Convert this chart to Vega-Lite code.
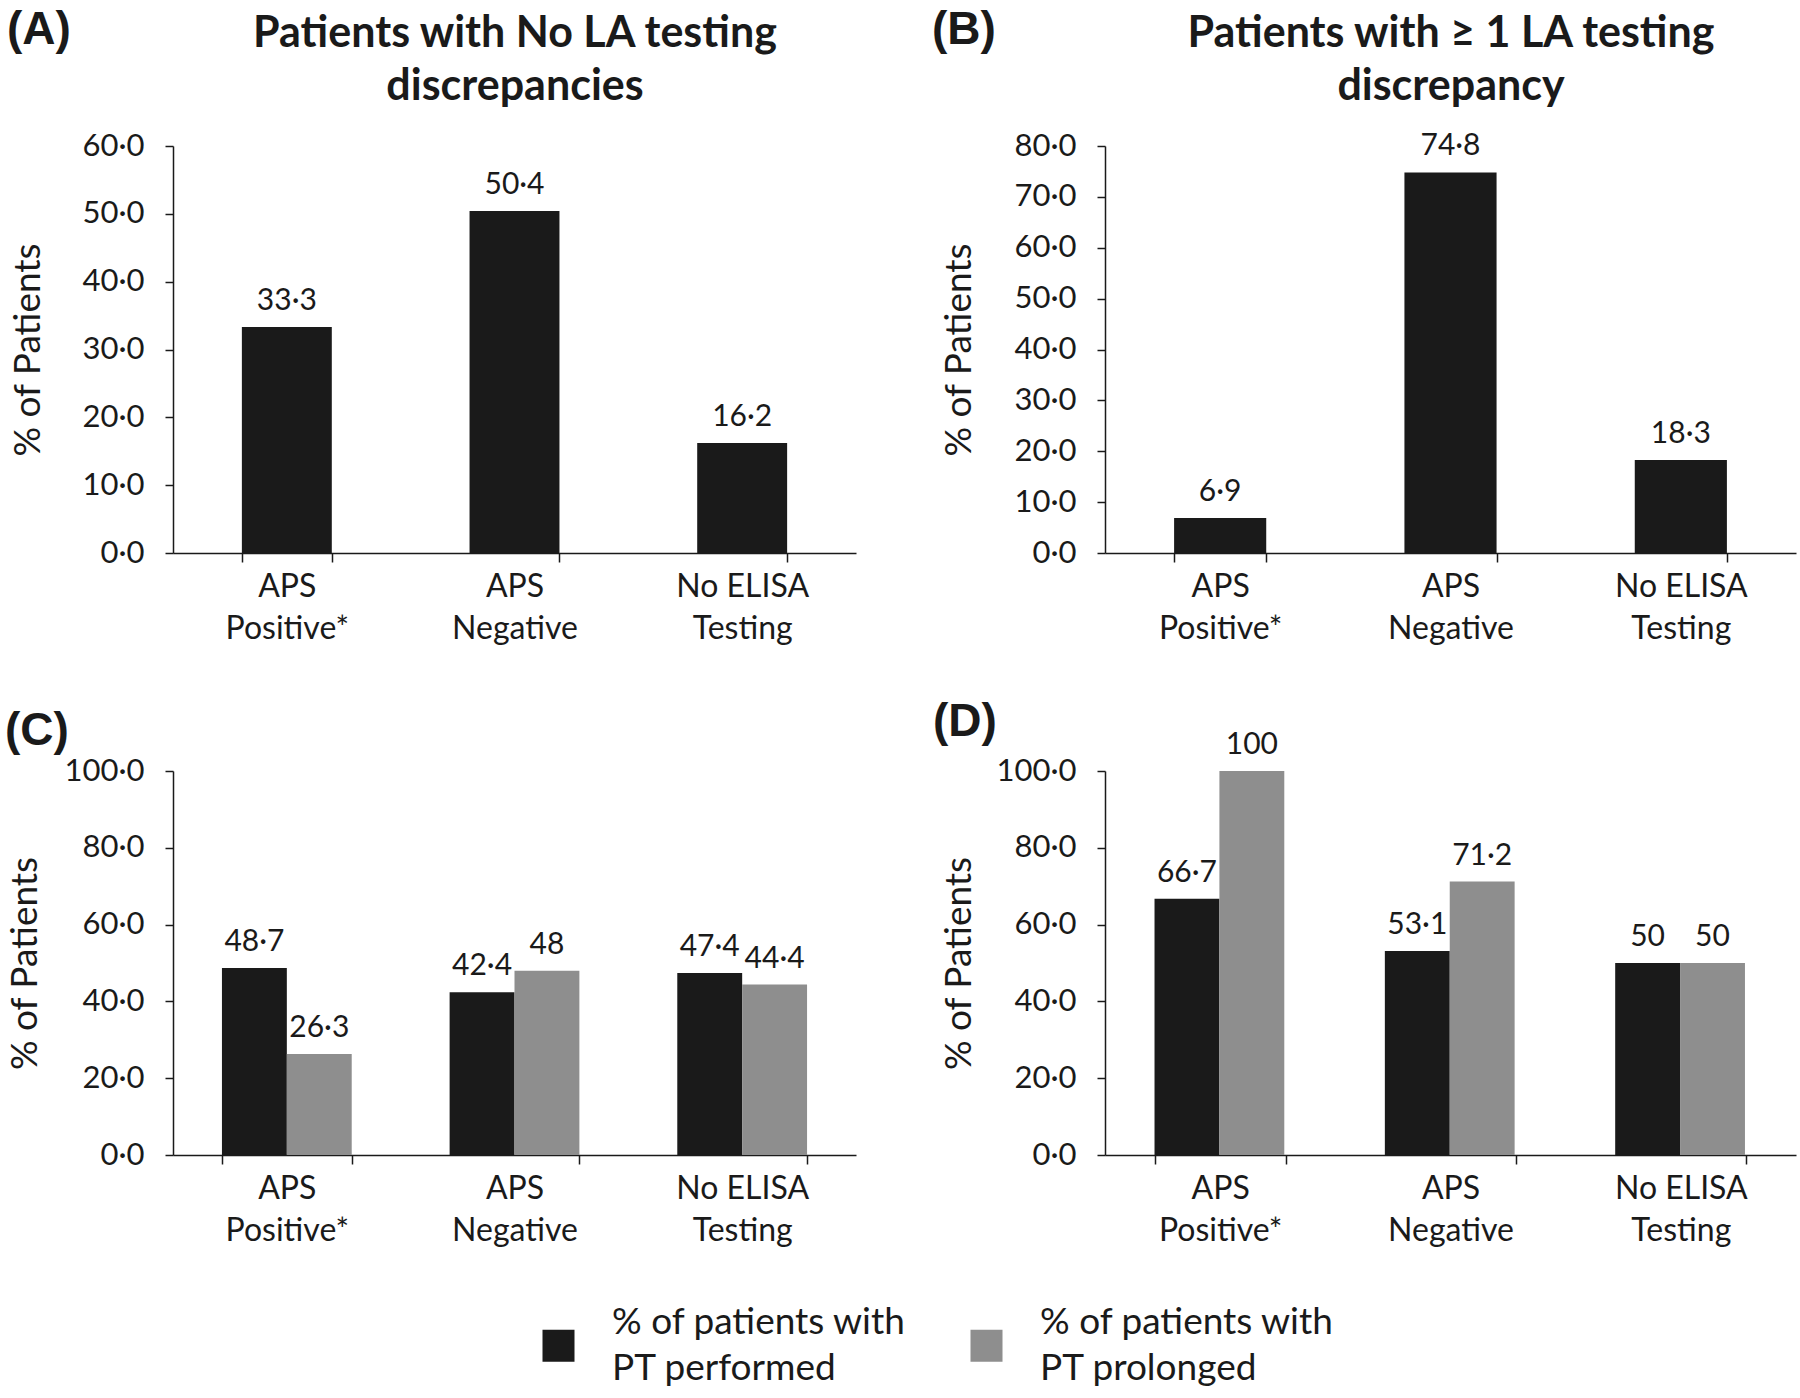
{
  "$schema": "https://vega.github.io/schema/vega-lite/v6.json",
  "background": "white",
  "padding": {"left": 5, "top": 7, "right": 5, "bottom": 5},
  "columns": 2,
  "bounds": "flush",
  "spacing": {"row": 218, "column": 249},
  "datasets": {
    "A": [
      {"category": "APS Positive*", "value": 33.3, "label": "33·3"},
      {"category": "APS Negative", "value": 50.4, "label": "50·4"},
      {"category": "No ELISA Testing", "value": 16.2, "label": "16·2"}
    ],
    "B": [
      {"category": "APS Positive*", "value": 6.9, "label": "6·9"},
      {"category": "APS Negative", "value": 74.8, "label": "74·8"},
      {"category": "No ELISA Testing", "value": 18.3, "label": "18·3"}
    ],
    "C": [
      {"category": "APS Positive*", "series": "% of patients with PT performed", "value": 48.7, "label": "48·7"},
      {"category": "APS Positive*", "series": "% of patients with PT prolonged", "value": 26.3, "label": "26·3"},
      {"category": "APS Negative", "series": "% of patients with PT performed", "value": 42.4, "label": "42·4"},
      {"category": "APS Negative", "series": "% of patients with PT prolonged", "value": 48, "label": "48"},
      {"category": "No ELISA Testing", "series": "% of patients with PT performed", "value": 47.4, "label": "47·4"},
      {"category": "No ELISA Testing", "series": "% of patients with PT prolonged", "value": 44.4, "label": "44·4"}
    ],
    "D": [
      {"category": "APS Positive*", "series": "% of patients with PT performed", "value": 66.7, "label": "66·7"},
      {"category": "APS Positive*", "series": "% of patients with PT prolonged", "value": 100, "label": "100"},
      {"category": "APS Negative", "series": "% of patients with PT performed", "value": 53.1, "label": "53·1"},
      {"category": "APS Negative", "series": "% of patients with PT prolonged", "value": 71.2, "label": "71·2"},
      {"category": "No ELISA Testing", "series": "% of patients with PT performed", "value": 50, "label": "50"},
      {"category": "No ELISA Testing", "series": "% of patients with PT prolonged", "value": 50, "label": "50"}
    ]
  },
  "concat": [
    {
      "width": 683, "height": 407,
      "title": {"text": "(A)", "anchor": "start", "frame": "bounds", "font": "Liberation Sans", "fontSize": 46, "fontWeight": "bold", "color": "#1a1a1a", "dx": -3, "dy": 46},
      "data": {"name": "A"},
      "encoding": {
        "x": {"field": "category", "type": "nominal", "sort": null,
              "scale": {"paddingInner": 0.605, "paddingOuter": 0.3025},
              "axis": {"title": null, "labelAngle": 0, "labelExpr": "!isValid(datum.value) ? '' : datum.value == 'No ELISA Testing' ? ['No ELISA', 'Testing'] : split(datum.value, ' ')", "labelFontSize": 32, "labelLineHeight": 42, "labelPadding": 9, "tickBand": "extent", "tickSize": 9}},
        "y": {"field": "value", "type": "quantitative",
              "scale": {"domain": [0, 60], "nice": false},
              "axis": {"values": [0, 10, 20, 30, 40, 50, 60], "labelExpr": "replace(format(datum.value, '.1f'), '.', '·')", "title": "% of Patients", "titlePadding": 34}}
      },
      "layer": [
        {"mark": {"type": "bar", "color": "#1a1a1a"}},
        {"mark": {"type": "text", "baseline": "alphabetic", "dy": -17, "fontSize": 30, "color": "#1a1a1a"},
         "encoding": {
           "text": {"field": "label"},
           "x": {"field": "category", "type": "nominal", "sort": null,
                 "axis": {"orient": "top", "title": ["Patients with No LA testing", "discrepancies"], "labels": false, "ticks": false, "domain": false, "titleFontSize": 43, "titleFontWeight": "bold", "titleLineHeight": 53, "titlePadding": 38, "titleColor": "#1a1a1a"}}
         }}
      ],
      "resolve": {"axis": {"x": "independent"}}
    },
    {
      "width": 691, "height": 407,
      "title": {"text": "(B)", "anchor": "start", "frame": "bounds", "font": "Liberation Sans", "fontSize": 46, "fontWeight": "bold", "color": "#1a1a1a", "dx": -9, "dy": 46},
      "data": {"name": "B"},
      "encoding": {
        "x": {"field": "category", "type": "nominal", "sort": null,
              "scale": {"paddingInner": 0.6, "paddingOuter": 0.3},
              "axis": {"title": null, "labelAngle": 0, "labelExpr": "!isValid(datum.value) ? '' : datum.value == 'No ELISA Testing' ? ['No ELISA', 'Testing'] : split(datum.value, ' ')", "labelFontSize": 32, "labelLineHeight": 42, "labelPadding": 9, "tickBand": "extent", "tickSize": 9}},
        "y": {"field": "value", "type": "quantitative",
              "scale": {"domain": [0, 80], "nice": false},
              "axis": {"values": [0, 10, 20, 30, 40, 50, 60, 70, 80], "labelExpr": "replace(format(datum.value, '.1f'), '.', '·')", "title": "% of Patients", "titlePadding": 35}}
      },
      "layer": [
        {"mark": {"type": "bar", "color": "#1a1a1a"}},
        {"mark": {"type": "text", "baseline": "alphabetic", "dy": -17, "fontSize": 30, "color": "#1a1a1a"},
         "encoding": {
           "text": {"field": "label"},
           "x": {"field": "category", "type": "nominal", "sort": null,
                 "axis": {"orient": "top", "title": ["Patients with ≥ 1 LA testing", "discrepancy"], "labels": false, "ticks": false, "domain": false, "titleFontSize": 43, "titleFontWeight": "bold", "titleLineHeight": 53, "titlePadding": 38, "titleColor": "#1a1a1a"}}
         }}
      ],
      "resolve": {"axis": {"x": "independent"}}
    },
    {
      "width": 683, "height": 384,
      "title": {"text": "(C)", "anchor": "start", "frame": "bounds", "font": "Liberation Sans", "fontSize": 46, "fontWeight": "bold", "color": "#1a1a1a", "dx": -1, "dy": 4},
      "data": {"name": "C"},
      "encoding": {
        "x": {"field": "category", "type": "nominal", "sort": null,
              "scale": {"paddingInner": 0.43, "paddingOuter": 0.215},
              "axis": {"title": null, "labelAngle": 0, "labelExpr": "!isValid(datum.value) ? '' : datum.value == 'No ELISA Testing' ? ['No ELISA', 'Testing'] : split(datum.value, ' ')", "labelFontSize": 32, "labelLineHeight": 42, "labelPadding": 9, "tickBand": "extent", "tickSize": 9}},
        "xOffset": {"field": "series", "type": "nominal"},
        "y": {"field": "value", "type": "quantitative",
              "scale": {"domain": [0, 100], "nice": false},
              "axis": {"values": [0, 20, 40, 60, 80, 100], "labelExpr": "replace(format(datum.value, '.1f'), '.', '·')", "title": "% of Patients", "titlePadding": 20}}
      },
      "layer": [
        {"mark": {"type": "bar"},
         "encoding": {"color": {"field": "series", "type": "nominal",
            "scale": {"domain": ["% of patients with PT performed", "% of patients with PT prolonged"], "range": ["#1a1a1a", "#8e8e8e"]},
            "legend": {"orient": "bottom", "direction": "horizontal", "title": " ", "titleOrient": "left", "titleFontSize": 10, "titlePadding": 73, "symbolType": "square", "symbolSize": 1024, "symbolStrokeWidth": 0, "labelFontSize": 37, "labelBaseline": "line-bottom", "labelExpr": "[slice(datum.label, 0, 18), slice(datum.label, 19)]", "labelOffset": 35, "columnPadding": 61, "labelLimit": 0, "offset": 81, "labelColor": "#1a1a1a"}}}},
        {"mark": {"type": "text", "baseline": "alphabetic", "dy": -17, "fontSize": 30, "color": "#1a1a1a"},
         "encoding": {"text": {"field": "label"}}}
      ]
    },
    {
      "width": 691, "height": 384,
      "title": {"text": "(D)", "anchor": "start", "frame": "bounds", "font": "Liberation Sans", "fontSize": 46, "fontWeight": "bold", "color": "#1a1a1a", "dx": -7, "dy": 20},
      "data": {"name": "D"},
      "encoding": {
        "x": {"field": "category", "type": "nominal", "sort": null,
              "scale": {"paddingInner": 0.43, "paddingOuter": 0.215},
              "axis": {"title": null, "labelAngle": 0, "labelExpr": "!isValid(datum.value) ? '' : datum.value == 'No ELISA Testing' ? ['No ELISA', 'Testing'] : split(datum.value, ' ')", "labelFontSize": 32, "labelLineHeight": 42, "labelPadding": 9, "tickBand": "extent", "tickSize": 9}},
        "xOffset": {"field": "series", "type": "nominal"},
        "y": {"field": "value", "type": "quantitative",
              "scale": {"domain": [0, 100], "nice": false},
              "axis": {"values": [0, 20, 40, 60, 80, 100], "labelExpr": "replace(format(datum.value, '.1f'), '.', '·')", "title": "% of Patients", "titlePadding": 18}}
      },
      "layer": [
        {"mark": {"type": "bar"},
         "encoding": {"color": {"field": "series", "type": "nominal"}}},
        {"mark": {"type": "text", "baseline": "alphabetic", "dy": -17, "fontSize": 30, "color": "#1a1a1a"},
         "encoding": {"text": {"field": "label"}}}
      ]
    }
  ],
  "config": {
    "font": "Lato",
    "view": {"stroke": null},
    "axis": {"grid": false, "domainColor": "#1a1a1a", "domainWidth": 1.5, "tickColor": "#1a1a1a", "tickWidth": 1.5, "tickSize": 8,
             "labelFont": "Lato", "labelFontSize": 31, "labelColor": "#1a1a1a", "labelPadding": 21,
             "titleFont": "Lato", "titleFontSize": 37, "titleFontWeight": "normal", "titleColor": "#1a1a1a", "titlePadding": 28},
    "legend": {"labelFont": "Lato", "layout": {"anchor": "middle"}},
    "style": {"guide-label": {"lineHeight": 46}},
    "title": {"offset": 4}
  }
}
